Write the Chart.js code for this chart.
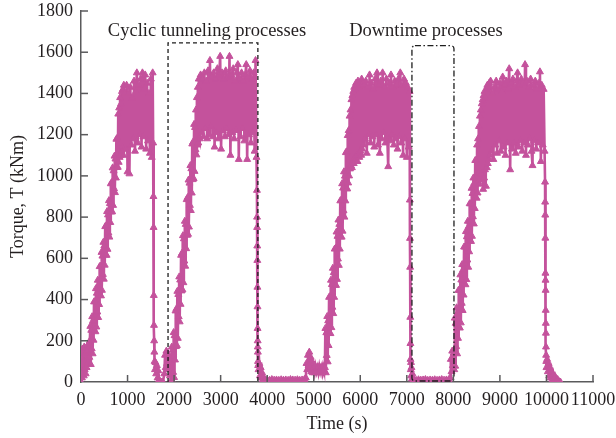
<!DOCTYPE html>
<html><head><meta charset="utf-8">
<script src="https://cdn.jsdelivr.net/npm/chart.js@4.4.0/dist/chart.umd.min.js"></script>
<style>html,body{margin:0;padding:0;background:#fff;} #wrap{width:616px;height:438px;}</style>
</head><body><div id="wrap"><canvas id="c" width="616" height="438"></canvas></div>
<script>
// ---- data (time in s, torque in kNm) ----
const cycle1Time = [0,10,20,30,40,50,60,70,80,90,
 100,110,120,130,140,150,160,170,180,190,
 200,210,220,230,240,250,260,270,280,290,
 300,310,320,330,340,350,360,370,380,390,
 400,410,420,430,440,450,460,470,480,490,
 500,510,520,530,540,550,560,570,580,590,
 600,610,620,630,640,650,660,670,680,690,
 700,710,720,730,740,750,760,770,780,790,
 800,810,820,830,840,850,860,870,880,890,
 900,910,920,930,940,
 960,980,1000,1020,1040,1060,1080,1100,1120,1140,
 1160,1180,1200,1220,1240,1260,1280,1300,1320,1340,
 1360,1380,1400,1420,1440,1460,1480,1500,1520,1540];
const cycle1Torque = [0,120,20,160,50,150,30,170,60,140,
 40,165,70,150,90,180,100,170,120,200,
 270,85,251,161,317,137,298,203,389,249,
 390,244,453,267,431,340,494,313,472,376,
 560,421,562,418,629,445,611,522,678,499,
 660,567,754,616,758,615,827,644,811,723,
 880,703,866,774,962,825,968,826,1039,857,
 1025,938,1096,919,1082,990,1178,1041,1184,1042,
 1300,1066,1330,1090,1380,1100,1350,1120,1410,1140,
 1420,1100,1440,1130,1400,
 1130,1440,1020,1400,1010,1430,1150,1380,1180,1460,
 1120,1410,1500,1160,1440,1200,1470,1140,1500,1190,
 1420,1490,1130,1450,1170,1400,1110,1470,1090,1500];

const stop1Time = [1550,1556,1560,1564,1568,1572,1576,1582,1590,1600,
 1615,1630,1645,1660,1680,1700,1730,1760,1790,1805,
 1820,1835,1850,1865,1880,1895,1910,1925,1940];
const stop1Torque = [1160,900,750,420,275,200,145,100,60,95,
 40,80,20,55,10,0,0,0,40,130,
 70,150,90,140,60,120,30,100,10];

const cycle2Time = [1950,1960,1970,1980,1990,2000,2010,2020,2030,2040,
 2050,2060,2070,2080,2090,2100,2110,2120,2130,2140,
 2150,2160,2170,2180,2190,2200,2210,2220,2230,2240,
 2250,2260,2270,2280,2290,2300,2310,2320,2330,2340,
 2350,2360,2370,2380,2390,2400,2410,2420,2430,2440,
 2450,2460,2470,2480,2490,2500,2510,2520,2530,2540,
 2550,2570,2590,2610,2630,2650,2670,2690,2710,2730,
 2750,2770,2790,2810,2830,2850,2870,2890,2910,2930,
 2950,2970,2990,3010,3030,3050,3070,3090,3110,3130,
 3150,3170,3190,3210,3230,3250,3270,3290,3310,3330,
 3350,3370,3390,3410,3430,3450,3470,3490,3510,3530,
 3550,3570,3590,3610,3630,3650,3670,3690,3710,3730,
 3750,3770];
const cycle2Torque = [170,5,155,47,240,22,225,107,345,172,
 355,177,440,212,425,317,510,292,495,377,
 615,442,625,447,710,482,695,587,780,562,
 765,647,885,712,895,717,980,752,965,857,
 1050,832,1035,917,1155,982,1165,987,1250,1022,
 1235,1127,1320,1102,1380,1150,1430,1160,1470,1190,
 1180,1490,1210,1470,1190,1500,1230,1460,1180,1510,
 1200,1560,1240,1480,1190,1500,1140,1470,1210,1520,
 1180,1490,1580,1130,1500,1220,1470,1190,1510,1230,
 1480,1200,1580,1100,1490,1210,1520,1180,1460,1220,
 1500,1540,1080,1470,1190,1500,1230,1460,1170,1490,
 1540,1080,1480,1200,1510,1160,1470,1210,1500,1120,
 1560,1090];

const stop2Time = [3780,3782,3784,3786,3788,3790,3792,3794,3796,3798,
 3800,3803,3806,3815,3830,3845,3860,3875,3890,3905,
 3920,3940,3960,4000,4050,4100,4150,4200,4250,4300,
 4350,4400,4450,4500,4550,4600,4650,4700,4750,4800,
 4830,4845,4860,4875,4890,4905,4920,4935,4950,4965,
 4980,5000,5020,5040,5060,5080,5100,5120,5140,5160,
 5180,5200,5220,5240];
const stop2Torque = [930,800,750,660,590,460,365,260,200,170,
 145,100,80,60,90,30,70,20,45,10,
 25,5,8,10,8,12,9,10,8,11,
 9,10,8,12,10,9,11,8,10,12,
 20,90,60,130,80,145,70,120,50,100,
 45,70,45,75,50,70,45,75,50,70,
 45,75,55,70];

const cycle3Time = [5250,5260,5270,5280,5290,5300,5310,5320,5330,5340,
 5350,5360,5370,5380,5390,5400,5410,5420,5430,5440,
 5450,5460,5470,5480,5490,5500,5510,5520,5530,5540,
 5550,5560,5570,5580,5590,5600,5610,5620,5630,5640,
 5650,5660,5670,5680,5690,5700,5710,5720,5730,5740,
 5750,5760,5770,5780,5790,5800,5810,5820,5830,5840,
 5850,5860,5870,5880,5890,5900,5910,5920,5930,5940,
 5950,5960,5970,5980,5990,6000,6010,6020,6030,6040,
 6050,
 6060,6080,6100,6120,6140,6160,6180,6200,6220,6240,
 6260,6280,6300,6320,6340,6360,6380,6400,6420,6440,
 6460,6480,6500,6520,6540,6560,6580,6600,6620,6640,
 6660,6680,6700,6720,6740,6760,6780,6800,6820,6840,
 6860,6880,6900,6920,6940,6960,6980,7000,7020,7040,
 7060];
const cycle3Torque = [260,45,239,129,318,98,297,177,411,236,
 415,235,494,264,473,363,552,332,531,411,
 645,470,649,469,728,498,707,597,786,566,
 765,645,879,704,883,703,962,732,941,831,
 1020,800,999,879,1113,938,1117,937,1196,966,
 1220,1000,1290,1034,1320,1050,1370,1040,1390,1070,
 1410,1060,1430,1090,1420,1080,1450,1100,1440,1070,
 1460,1110,1430,1090,1450,1120,1440,1100,1470,1130,
 1450,
 1150,1440,1180,1460,1110,1430,1200,1490,1160,1450,
 1190,1420,1140,1470,1200,1500,1150,1440,1110,1460,
 1180,1500,1210,1430,1160,1470,1190,1045,1450,1170,
 1490,1200,1430,1150,1460,1180,1440,1130,1470,1190,
 1500,1160,1440,1100,1470,1180,1450,1090,1430,1140,
 1410];

const stop3Time = [7065,7068,7071,7074,7077,7080,7085,7090,7095,7100,
 7110,7120,7135,7160,7200,7250,7300,7350,7400,7450,
 7500,7550,7600,7650,7700,7750,7800,7850,7900];
const stop3Torque = [883,697,557,314,187,110,60,95,30,70,
 15,40,5,10,8,11,9,10,12,8,
 10,9,11,8,10,12,9,10,11];

const cycle4Time = [7930,7945,7960,7975,7990,8005,8020,
 8030,8040,8050,8060,8070,8080,8090,8100,8110,8120,
 8130,8140,8150,8160,8170,8180,8190,8200,8210,8220,
 8230,8240,8250,8260,8270,8280,8290,8300,8310,8320,
 8330,8340,8350,8360,8370,8380,8390,8400,8410,8420,
 8430,8440,8450,8460,8470,8480,8490,8500,8510,8520,
 8530,8540,8550,8560,8570,8580,8590,8600,8610,8620,
 8630,8640,8650,8660,8670,8680,8690,8700,8710,8720,
 8730,8740,8750,8760,8770,
 8780,8800,8820,8840,8860,8880,8900,8920,8940,8960,
 8980,9000,9020,9040,9060,9080,9100,9120,9140,9160,
 9180,9200,9220,9240,9260,9280,9300,9320,9340,9360,
 9380,9400,9420,9440,9460,9480,9500,9520,9540,9560,
 9580,9600,9620,9640,9660,9680,9700,9720,9740,9760,
 9780,9800,9820,9840,9860,9880,9900,9920,9940,9960];
const cycle4Torque = [20,110,50,150,80,140,60,
 310,77,285,172,360,137,335,212,445,267,
 445,262,520,287,495,382,570,347,545,422,
 655,477,655,472,730,497,705,592,780,557,
 755,632,865,687,865,682,940,707,915,802,
 990,767,965,842,1075,897,1075,892,1150,917,
 1180,1012,1240,960,1290,990,1320,1010,1350,980,
 1370,935,1390,990,1410,1030,1380,950,1420,1040,
 1440,1060,1430,1080,1450,
 1100,1460,1120,1400,1080,1430,1150,1460,1110,1420,
 1170,1450,1120,1410,1480,1140,1440,1100,1460,1160,
 1420,1520,1030,1450,1130,1470,1160,1430,1110,1460,
 1500,1140,1440,1170,1470,1120,1450,1160,1540,1100,
 1460,1150,1430,1180,1470,1120,1050,1440,1170,1460,
 1130,1420,1160,1450,1505,1070,1440,1150,1420,1120];

const stop4Time = [9970,9972,9974,9976,9978,9980,9982,9984,9986,9988,
 9990,9993,9996,10000,10015,10030,10045,10060,10075,10090,
 10110,10130,10150,10170,10190,10210,10240,10270,10300];
const stop4Torque = [970,873,810,698,528,494,445,348,285,237,
 170,130,100,70,110,50,90,30,70,20,
 50,10,35,5,25,5,12,2,0];

const xTicks = [0,1000,2000,3000,4000,5000,6000,7000,8000,9000,10000,11000];
const yTicks = [0,200,400,600,800,1000,1200,1400,1600,1800];

// annotation regions (data units)
const cyclicBox = {from: 1870, to: 3800, top: 1645, label: 'Cyclic tunneling processes', labelAt: [2707, 1703]};
const downtimeBox = {from: 7110, to: 8013, top: 1632, label: 'Downtime processes', labelAt: [7411, 1700]};

// ---- build ----
const segs = [[cycle1Time,cycle1Torque],[stop1Time,stop1Torque],[cycle2Time,cycle2Torque],[stop2Time,stop2Torque],
 [cycle3Time,cycle3Torque],[stop3Time,stop3Torque],[cycle4Time,cycle4Torque],[stop4Time,stop4Torque]];
const points = [];
segs.forEach(([t,v],i)=>{
  if (t.length !== v.length) console.error('length mismatch in segment '+i+': '+t.length+' vs '+v.length);
  for (let k=0;k<Math.min(t.length,v.length);k++) points.push({x:t[k], y:v[k]});
});

const PINK = 'rgb(196,82,156)';
const AXIS = '#5a5a5c';
const TEXT = '#231f20';
const FONT = 'Liberation Serif';
const FS = 18;

const extras = {
  id: 'extras',
  afterDatasetsDraw(chart){
    const {ctx, scales:{x,y}} = chart;
    ctx.save();
    ctx.strokeStyle = '#1e1e1e';
    ctx.lineWidth = 1.3;
    let x0 = x.getPixelForValue(cyclicBox.from), x1 = x.getPixelForValue(cyclicBox.to);
    let yt = y.getPixelForValue(cyclicBox.top), yb = y.getPixelForValue(0);
    ctx.setLineDash([4,3]);
    ctx.beginPath(); ctx.moveTo(x0,yb); ctx.lineTo(x0,yt); ctx.lineTo(x1,yt); ctx.lineTo(x1,yb); ctx.stroke();
    x0 = x.getPixelForValue(downtimeBox.from); x1 = x.getPixelForValue(downtimeBox.to);
    yt = y.getPixelForValue(downtimeBox.top); yb = y.getPixelForValue(0) - 1;
    ctx.setLineDash([6,2.5,1.5,2.5]);
    ctx.beginPath(); ctx.roundRect(x0, yt, x1-x0, yb-yt, 3); ctx.stroke();
    ctx.setLineDash([]);
    ctx.fillStyle = TEXT;
    ctx.font = '18.5px "' + FONT + '"';
    ctx.textAlign = 'center'; ctx.textBaseline = 'middle';
    [cyclicBox, downtimeBox].forEach(b=>{
      ctx.fillText(b.label, x.getPixelForValue(b.labelAt[0]), y.getPixelForValue(b.labelAt[1]));
    });
    ctx.restore();
  },
  afterDraw(chart){
    const {ctx, chartArea:a, scales:{x,y}} = chart;
    ctx.save();
    ctx.strokeStyle = AXIS; ctx.lineWidth = 1.5;
    xTicks.forEach(v=>{ if(v===0) return; const px = x.getPixelForValue(v);
      ctx.beginPath(); ctx.moveTo(px, a.bottom); ctx.lineTo(px, a.bottom-7); ctx.stroke(); });
    yTicks.forEach(v=>{ if(v===0) return; const py = y.getPixelForValue(v);
      ctx.beginPath(); ctx.moveTo(a.left, py); ctx.lineTo(a.left+7, py); ctx.stroke(); });
    ctx.restore();
  }
};

new Chart(document.getElementById('c'), {
  type: 'line',
  data: { datasets: [{
    data: points, borderColor: PINK, backgroundColor: PINK, borderWidth: 2.6,
    pointStyle: 'triangle', pointRadius: 4, pointBorderWidth: 1, pointHoverRadius: 4,
    pointBackgroundColor: PINK, pointBorderColor: PINK, tension: 0, fill: false
  }]},
  options: {
    responsive: false, animation: false, events: [],
    layout: { padding: { top: 11, right: 23, left: 0, bottom: 0 } },
    plugins: { legend: { display: false }, tooltip: { enabled: false } },
    scales: {
      x: {
        type: 'linear', min: 0, max: 11000,
        afterBuildTicks(s){ s.ticks = xTicks.map(v=>({value:v})); },
        afterFit(s){ s.height = 56; s.paddingLeft = 0; s.paddingRight = 0; },
        ticks: { autoSkip: false, maxRotation: 0, padding: 7, color: TEXT,
          font: { family: FONT, size: FS }, callback: v => String(v) },
        grid: { drawOnChartArea: false, drawTicks: false },
        border: { color: AXIS, width: 1.5 },
        title: { display: true, text: 'Time (s)', color: TEXT, font: { family: FONT, size: FS }, padding: { top: 0, bottom: 3 } }
      },
      y: {
        min: 0, max: 1800,
        afterBuildTicks(s){ s.ticks = yTicks.map(v=>({value:v})); },
        afterFit(s){ s.width = 81; s.paddingTop = 0; s.paddingBottom = 0; },
        ticks: { padding: 8, color: TEXT, font: { family: FONT, size: FS }, callback: v => String(v) },
        grid: { drawOnChartArea: false, drawTicks: false },
        border: { color: AXIS, width: 1.5 },
        title: { display: true, text: 'Torque, T (kNm)', color: TEXT, font: { family: FONT, size: FS }, padding: { top: 7, bottom: 0 } }
      }
    }
  },
  plugins: [extras]
});
</script></body></html>
